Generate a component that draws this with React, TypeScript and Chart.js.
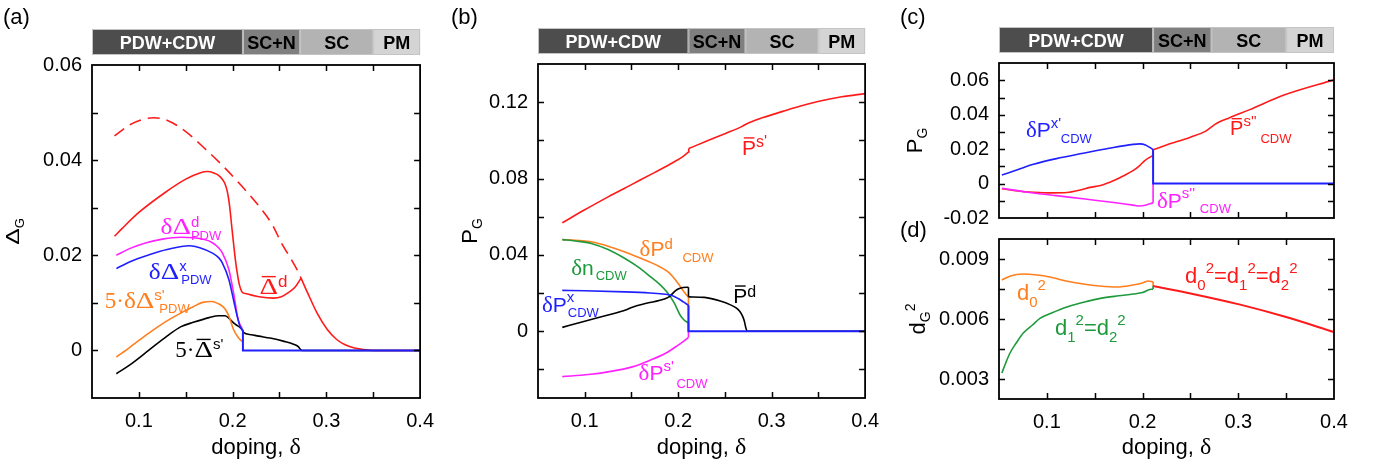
import React, { useEffect, useRef } from 'react';
import { Chart, registerables } from 'chart.js';
Chart.register(...registerables);

// ---------------- DATA ----------------
const xTickLabels = [0.1, 0.2, 0.3, 0.4];
const xMinorTicks = [0.1, 0.15, 0.2, 0.25, 0.3, 0.35];
const phaseNames = ['PDW+CDW', 'SC+N', 'SC', 'PM'];
const phaseBounds = [0.05, 0.211, 0.272, 0.35, 0.4];

// panel (a)
const aYTicks = [0, 0.02, 0.04, 0.06];
const aYMinor = [0, 0.01, 0.02, 0.03, 0.04, 0.05];
const aRedLeft = [[0.074,0.0240],[0.082,0.0256],[0.10,0.0290],[0.128,0.0332],[0.15,0.0360],[0.165,0.0373],[0.173,0.0376],[0.18,0.0373],[0.185,0.0368],[0.189,0.0360],[0.1915,0.0352],[0.194,0.0337],[0.1958,0.0318],[0.197,0.0300],[0.199,0.0262],[0.201,0.0225],[0.203,0.0190],[0.205,0.0162],[0.207,0.0140],[0.209,0.0127],[0.21,0.0123],[0.215,0.0119],[0.228,0.0113],[0.244,0.0110],[0.252,0.0113],[0.259,0.0121],[0.267,0.0134],[0.273,0.0152]];
const aRedRight = [[0.273,0.0152],[0.28,0.0121],[0.29,0.0079],[0.301,0.0044],[0.311,0.0023],[0.32,0.0012],[0.33,0.0005],[0.34,0.0002],[0.35,0],[0.4,0]];
const aRedDashed = [[0.074,0.0451],[0.09,0.0474],[0.105,0.0486],[0.116,0.0489],[0.13,0.0484],[0.15,0.0460],[0.17,0.0425],[0.189,0.0389],[0.21,0.0345],[0.231,0.0296],[0.243,0.0262],[0.252,0.0226],[0.262,0.0193],[0.269,0.0169],[0.273,0.0152]];
const aMagenta = [[0.076,0.0200],[0.09,0.0214],[0.107,0.0226],[0.125,0.0234],[0.145,0.0238],[0.158,0.0237],[0.17,0.0233],[0.178,0.0227],[0.185,0.0216],[0.189,0.0205],[0.196,0.0170],[0.201,0.0121],[0.206,0.0064],[0.21,0.0047]];
const aBlue = [[0.076,0.0172],[0.09,0.0186],[0.111,0.0201],[0.13,0.0212],[0.154,0.0220],[0.165,0.0216],[0.178,0.0205],[0.185,0.0195],[0.189,0.0184],[0.196,0.0149],[0.201,0.0106],[0.205,0.0071],[0.208,0.0050],[0.211,0.0043]];
const aBlueZero = [[0.211,0.0043],[0.211,0],[0.4,0]];
const aOrange = [[0.076,-0.0014],[0.09,0.0006],[0.111,0.0037],[0.13,0.0062],[0.145,0.0079],[0.158,0.0092],[0.168,0.0101],[0.178,0.0103],[0.185,0.0098],[0.189,0.0093],[0.193,0.0084],[0.196,0.0072],[0.201,0.0044],[0.206,0.0027],[0.21,0.0019]];
const aBlack = [[0.076,-0.0049],[0.09,-0.0031],[0.111,0.0001],[0.13,0.0030],[0.145,0.0050],[0.158,0.0059],[0.175,0.0069],[0.185,0.0073],[0.192,0.0073],[0.197,0.0066],[0.201,0.0058],[0.205,0.0052],[0.208,0.0048],[0.21,0.0044],[0.2115,0.0038],[0.22,0.0033],[0.228,0.0030],[0.24,0.0026],[0.255,0.0019],[0.265,0.0013],[0.27,0.0008],[0.2725,0.0002],[0.274,0],[0.4,0]];

// panel (b)
const bYTicks = [0, 0.04, 0.08, 0.12];
const bYMinor = [-0.02, 0, 0.02, 0.04, 0.06, 0.08, 0.1, 0.12];
const bRedLeft = [[0.076,0.0568],[0.1,0.0636],[0.125,0.0704],[0.15,0.0768],[0.175,0.0832],[0.195,0.0885],[0.205,0.0915],[0.211,0.0938]];
const bRedStep = [[0.211,0.0938],[0.2113,0.0957]];
const bRedRight = [[0.2113,0.0957],[0.23,0.0995],[0.25,0.1035],[0.268,0.1072],[0.273,0.1086],[0.29,0.1118],[0.316,0.1158],[0.335,0.1185],[0.352,0.1206],[0.375,0.1228],[0.4,0.1245]];
const bOrange = [[0.076,0.0480],[0.09,0.0476],[0.108,0.0467],[0.125,0.0445],[0.143,0.0415],[0.16,0.0382],[0.177,0.0346],[0.191,0.0303],[0.2,0.0250],[0.205,0.0215],[0.211,0.0178]];
const bOrangeDrop = [[0.211,0.0178],[0.211,0]];
const bGreen = [[0.076,0.0480],[0.09,0.0473],[0.107,0.0460],[0.125,0.0428],[0.143,0.0381],[0.157,0.0337],[0.1705,0.0285],[0.18,0.0247],[0.188,0.0205],[0.196,0.0146],[0.202,0.0085],[0.206,0.0060],[0.211,0.0043]];
const bGreenDrop = [[0.211,0.0043],[0.211,0]];
const bBlue = [[0.076,0.0214],[0.1,0.0212],[0.143,0.0206],[0.17,0.0200],[0.186,0.0194],[0.194,0.0186],[0.2,0.0171],[0.206,0.0152],[0.211,0.0136]];
const bBlueZero = [[0.211,0.0136],[0.211,0],[0.4,0]];
const bBlackLeft = [[0.076,0.0020],[0.1,0.0052],[0.125,0.0085],[0.143,0.0110],[0.151,0.0126],[0.165,0.0145],[0.186,0.0170],[0.191,0.0183],[0.1966,0.0210],[0.2005,0.0222],[0.2053,0.0229],[0.211,0.0230]];
const bBlackStep = [[0.211,0.0230],[0.211,0.0180]];
const bBlackRight = [[0.211,0.0180],[0.228,0.0177],[0.245,0.0158],[0.256,0.0138],[0.262,0.0122],[0.266,0.0103],[0.269,0.0078],[0.271,0.0049],[0.2725,0.0015],[0.274,0],[0.4,0]];
const bMagenta = [[0.076,-0.0238],[0.104,-0.0227],[0.125,-0.0213],[0.151,-0.0187],[0.17,-0.0152],[0.186,-0.0117],[0.2,-0.0073],[0.205,-0.0056],[0.211,-0.0032]];
const bMagentaRise = [[0.211,-0.0032],[0.211,0]];

// panel (c)
const cYTicks = [-0.02, 0, 0.02, 0.04, 0.06];
const cYMinor = [-0.01, 0, 0.01, 0.02, 0.03, 0.04, 0.05, 0.06];
const cBlue = [[0.053,0.0050],[0.07,0.0082],[0.086,0.0112],[0.11,0.0145],[0.138,0.0176],[0.165,0.0205],[0.19,0.0228],[0.197,0.0231],[0.203,0.0225],[0.211,0.0197]];
const cBlueZero = [[0.211,0.0197],[0.211,0],[0.4,0]];
const cRedLeft = [[0.053,-0.0030],[0.07,-0.0043],[0.086,-0.0050],[0.105,-0.0054],[0.121,-0.0052],[0.135,-0.0037],[0.145,-0.0022],[0.156,-0.0011],[0.17,0.0018],[0.18,0.0045],[0.19,0.0075],[0.197,0.0105],[0.202,0.0132],[0.206,0.0148],[0.211,0.0163]];
const cRedStep = [[0.211,0.0163],[0.211,0.0197]];
const cRedRight = [[0.211,0.0197],[0.225,0.0224],[0.25,0.0270],[0.265,0.0302],[0.276,0.0346],[0.291,0.0383],[0.312,0.0430],[0.347,0.0513],[0.4,0.0603]];
const cMagenta = [[0.053,-0.0027],[0.08,-0.0050],[0.11,-0.0070],[0.14,-0.0090],[0.17,-0.0110],[0.19,-0.0125],[0.197,-0.0130],[0.204,-0.0124],[0.211,-0.0112]];
const cMagentaRise = [[0.211,-0.0112],[0.211,0]];

// panel (d)
const dYTicks = [0.003, 0.006, 0.009];
const dYMinor = [0.003, 0.0045, 0.006, 0.0075, 0.009];
const dOrange = [[0.053,0.00795],[0.062,0.00815],[0.075,0.00825],[0.09,0.0082],[0.103,0.0081],[0.12,0.0079],[0.138,0.00775],[0.155,0.00765],[0.174,0.0076],[0.19,0.0077],[0.2,0.0078],[0.206,0.0079],[0.211,0.00785]];
const dOrangeStep = [[0.211,0.00785],[0.211,0.00765]];
const dGreen = [[0.053,0.0033],[0.057,0.0038],[0.0615,0.0043],[0.068,0.0048],[0.0754,0.0053],[0.085,0.0057],[0.0928,0.00603],[0.105,0.0063],[0.121,0.0066],[0.142,0.00688],[0.156,0.00703],[0.175,0.00716],[0.19,0.00725],[0.2,0.00732],[0.206,0.00745],[0.211,0.0075]];
const dGreenStep = [[0.211,0.0075],[0.211,0.00765]];
const dRed = [[0.211,0.00765],[0.25,0.00728],[0.302,0.00672],[0.35,0.0061],[0.4,0.00535]];

// ---------------- STYLE ----------------
const SANS = '"Liberation Sans", Arial, Helvetica, sans-serif';
const SERIF = '"Liberation Serif", "Times New Roman", serif';
const COL = { red: '#ff1a1a', blue: '#1f1fff', mag: '#ff22ff', orange: '#ff7f1e', green: '#1e9a3c', black: '#000000' };
const phaseFill = ['#4d4d4d', '#7f7f7f', '#b3b3b3', '#d4d4d4'];
const phaseText = ['#ffffff', '#000000', '#000000', '#000000'];

const fmt = (v: number, d: number) => (Math.abs(v) < 1e-12 ? '0' : v.toFixed(d));

function seg(data: number[][], color: string, opts: any = {}) {
  const curve = opts.curve !== false;
  return {
    data: data.map(([x, y]) => ({ x, y })),
    borderColor: color,
    backgroundColor: color,
    borderWidth: opts.width ?? 1.6,
    borderDash: opts.dash ?? [],
    pointRadius: 0,
    fill: false,
    tension: curve ? 0.4 : 0,
    cubicInterpolationMode: curve ? 'monotone' : 'default',
  };
}
const line = (d: number[][], c: string, o: any = {}) => seg(d, c, { ...o, curve: false });

// rich text runs
const gk = (t: string, sx = 1, s = 23) => ({ t, f: 'serif', s, sx });
const sn = (t: string, s = 21) => ({ t, f: 'sans', s });
const sup = (t: string, s = 15, dy = -8) => ({ t, f: 'sans', s, dy });
const sub = (t: string, dx = 0, s = 13, dy = 6) => ({ t, f: 'sans', s, dy, back: true, dx });

function drawRuns(ctx: CanvasRenderingContext2D, runs: any[], x: number, y: number, color: string, dry = false) {
  let cur = x;
  let prevStart = x;
  for (const r of runs) {
    ctx.font = `${r.b ? 'bold ' : ''}${r.s}px ${r.f === 'serif' ? SERIF : SANS}`;
    const sx = r.sx ?? 1;
    const w = ctx.measureText(r.t).width * sx;
    const start = (r.back ? prevStart : cur) + (r.dx ?? 0);
    const by = y + (r.dy ?? 0);
    if (!dry) {
      ctx.fillStyle = color;
      ctx.save();
      ctx.translate(start, by);
      ctx.scale(sx, 1);
      ctx.fillText(r.t, 0, 0);
      ctx.restore();
      if (r.bar) {
        const top = by - r.s * (r.f === 'serif' ? 0.66 : 0.72) - 2;
        ctx.strokeStyle = color;
        ctx.lineWidth = 1.4;
        ctx.beginPath();
        ctx.moveTo(start + w * 0.12, top);
        ctx.lineTo(start + w * 0.88, top);
        ctx.stroke();
      }
    }
    prevStart = start;
    cur = Math.max(cur, start + w);
  }
  return cur - x;
}

function decor(p: any) {
  return {
    id: 'decor',
    afterDraw(chart: any) {
      const { ctx, chartArea: ca } = chart;
      const xs = chart.scales.x;
      const ys = chart.scales.y;
      ctx.save();
      ctx.textAlign = 'left';
      ctx.textBaseline = 'alphabetic';
      // frame
      ctx.strokeStyle = '#000';
      ctx.lineWidth = 1.8;
      ctx.strokeRect(ca.left, ca.top, ca.right - ca.left, ca.bottom - ca.top);
      // inward ticks
      const tl = 6;
      ctx.lineWidth = 1.5;
      ctx.beginPath();
      for (const v of xMinorTicks) {
        const px = Math.round(xs.getPixelForValue(v)) + 0.5;
        ctx.moveTo(px, ca.bottom); ctx.lineTo(px, ca.bottom - tl);
        ctx.moveTo(px, ca.top); ctx.lineTo(px, ca.top + tl);
      }
      for (const v of p.yMinor) {
        const py = Math.round(ys.getPixelForValue(v)) + 0.5;
        ctx.moveTo(ca.left, py); ctx.lineTo(ca.left + tl, py);
        ctx.moveTo(ca.right, py); ctx.lineTo(ca.right - tl, py);
      }
      ctx.stroke();
      // phase bar
      if (p.phase) {
        const top = ca.top - 36;
        const h = 26;
        for (let i = 0; i < phaseNames.length; i++) {
          const x0 = xs.getPixelForValue(phaseBounds[i]);
          const x1 = xs.getPixelForValue(phaseBounds[i + 1]);
          ctx.fillStyle = phaseFill[i];
          ctx.fillRect(x0, top, x1 - x0, h);
          ctx.strokeStyle = '#c4c4c4';
          ctx.lineWidth = 1;
          ctx.strokeRect(x0 + 0.5, top + 0.5, x1 - x0 - 1, h - 1);
          ctx.font = `bold 18px ${SANS}`;
          ctx.fillStyle = phaseText[i];
          ctx.textAlign = 'center';
          ctx.fillText(phaseNames[i], (x0 + x1) / 2, top + 20);
          ctx.textAlign = 'left';
        }
      }
      // curve labels
      for (const lb of p.labels) {
        drawRuns(ctx, lb.runs, xs.getPixelForValue(lb.x), ys.getPixelForValue(lb.y), lb.c);
      }
      // y title (rotated)
      if (p.yTitle) {
        const cy = (ca.top + ca.bottom) / 2;
        const w = drawRuns(ctx, p.yTitle.runs, 0, 0, '#000', true);
        ctx.save();
        ctx.translate(p.yTitle.x, cy);
        ctx.rotate(-Math.PI / 2);
        drawRuns(ctx, p.yTitle.runs, -w / 2, 0, '#000');
        ctx.restore();
      }
      // x title
      if (p.xTitleY) {
        const runs = [sn('doping, ', 22), gk('δ', 1, 24)];
        const w = drawRuns(ctx, runs, 0, 0, '#000', true);
        drawRuns(ctx, runs, (ca.left + ca.right) / 2 - w / 2, p.xTitleY, '#000');
      }
      // panel letter
      if (p.letter) {
        ctx.font = `22px ${SANS}`;
        ctx.fillStyle = '#000';
        ctx.fillText(p.letter.t, p.letter.x, p.letter.y);
      }
      ctx.restore();
    },
  };
}

function buildConfig(p: any) {
  return {
    type: 'line',
    data: { datasets: p.series },
    options: {
      animation: false,
      responsive: false,
      maintainAspectRatio: false,
      devicePixelRatio: 1,
      events: [],
      layout: { padding: { left: 0, right: p.pr, top: p.pt, bottom: p.pb } },
      plugins: { legend: { display: false }, tooltip: { enabled: false }, title: { display: false } },
      scales: {
        x: {
          type: 'linear', min: 0.05, max: 0.4,
          grid: { display: false, drawTicks: false }, border: { display: false },
          ticks: { display: p.showX, color: '#000', font: { family: SANS, size: 20 }, padding: 11, maxRotation: 0, autoSkip: false, callback: (v: number) => fmt(v, 1) },
          afterBuildTicks: (s: any) => { s.ticks = xTickLabels.map((v) => ({ value: v })); },
          afterFit: (s: any) => { s.height = p.xh; },
        },
        y: {
          type: 'linear', min: p.ymin, max: p.ymax,
          grid: { display: false, drawTicks: false }, border: { display: false },
          ticks: { color: '#000', font: { family: SANS, size: 20 }, padding: 10, autoSkip: false, callback: (v: number) => fmt(v, p.dec) },
          afterBuildTicks: (s: any) => { s.ticks = p.yTicks.map((v: number) => ({ value: v })); },
          afterFit: (s: any) => { s.width = p.yw; },
        },
      },
    },
    plugins: [decor(p)],
  };
}

const barP = (s = 21) => ({ t: 'P', f: 'sans', s, bar: true });
const barD = () => ({ ...gk('Δ', 1.25, 23), bar: true });
const dd = (t: string) => ({ t, f: 'sans', s: 22 });
const dsub = (t: string) => ({ t, f: 'sans', s: 15, dy: 7 });
const dsup = (t: string) => ({ t, f: 'sans', s: 15, dy: -10 });

const panels: any[] = [
  {
    left: 0, top: 0, w: 445, h: 461, yw: 92, pr: 18, pt: 65, pb: 23, xh: 40, showX: true,
    ymin: -0.01, ymax: 0.06, yTicks: aYTicks, yMinor: aYMinor, dec: 2, phase: true,
    letter: { t: '(a)', x: 3, y: 24 }, xTitleY: 454,
    yTitle: { x: 19, runs: [{ t: 'Δ', f: 'sans', s: 19, sx: 1.3 }, { t: 'G', f: 'sans', s: 13, dy: 5 }] },
    labels: [
      { x: 0.1231, y: 0.02457, c: COL.mag, runs: [gk('δ', 1.1, 23), gk('Δ', 1.25, 23), sup('d', 15, -7), sub('PDW', 0, 13, 6)] },
      { x: 0.1106, y: 0.0151, c: COL.blue, runs: [gk('δ', 1.1, 23), gk('Δ', 1.25, 23), sup('x', 15, -8), sub('PDW', 2, 13, 5)] },
      { x: 0.0636, y: 0.0090, c: COL.orange, runs: [gk('5', 1, 23), gk('·', 1, 23), gk('δ', 1.1, 23), gk('Δ', 1.25, 23), sup("s'", 15, -8), sub('PDW', 5, 13, 5)] },
      { x: 0.1388, y: -0.0013, c: COL.black, runs: [gk('5', 1, 23), gk('·', 1, 23), barD(), sup("s'", 15, -8)] },
      { x: 0.2287, y: 0.0119, c: COL.red, runs: [barD(), { t: 'd', f: 'sans', s: 17, dy: -7 }] },
    ],
    series: [
      line(aBlueZero, COL.blue, { width: 2 }),
      seg(aBlue, COL.blue),
      seg(aMagenta, COL.mag),
      seg(aOrange, COL.orange),
      seg(aBlack, COL.black),
      seg(aRedLeft, COL.red),
      seg(aRedRight, COL.red),
      seg(aRedDashed, COL.red, { dash: [12, 7] }),
    ],
  },
  {
    left: 440, top: 0, w: 450, h: 461, yw: 98, pr: 17, pt: 64, pb: 23, xh: 40, showX: true,
    ymin: -0.035, ymax: 0.14, yTicks: bYTicks, yMinor: bYMinor, dec: 2, phase: true,
    letter: { t: '(b)', x: 11, y: 24 }, xTitleY: 454,
    yTitle: { x: 37, runs: [{ t: 'P', f: 'sans', s: 22 }, { t: 'G', f: 'sans', s: 14, dy: 5 }] },
    labels: [
      { x: 0.2684, y: 0.0923, c: COL.red, runs: [barP(21), sup("s'", 16, -8)] },
      { x: 0.1587, y: 0.0393, c: COL.orange, runs: [gk('δ'), sn('P'), sup('d', 15, -7), sub('CDW', 18, 13, 6)] },
      { x: 0.0855, y: 0.0294, c: COL.green, runs: [gk('δ'), sn('n'), { t: 'CDW', f: 'sans', s: 13, dy: 5, dx: 2 }] },
      { x: 0.0542, y: 0.0100, c: COL.blue, runs: [gk('δ'), sn('P'), sup('x', 15, -10), sub('CDW', 1, 13, 5)] },
      { x: 0.259, y: 0.0147, c: COL.black, runs: [barP(21), sup('d', 16, -6)] },
      { x: 0.1576, y: -0.0257, c: COL.mag, runs: [gk('δ'), sn('P'), sup("s'", 15, -9), sub('CDW', 13, 13, 8)] },
    ],
    series: [
      line(bBlueZero, COL.blue, { width: 2 }),
      seg(bBlue, COL.blue),
      seg(bBlackLeft, COL.black),
      line(bBlackStep, COL.black),
      seg(bBlackRight, COL.black),
      seg(bGreen, COL.green),
      line(bGreenDrop, COL.green),
      seg(bOrange, COL.orange),
      line(bOrangeDrop, COL.orange),
      seg(bMagenta, COL.mag),
      line(bMagentaRise, COL.mag),
      seg(bRedLeft, COL.red),
      line(bRedStep, COL.red),
      seg(bRedRight, COL.red),
    ],
  },
  {
    left: 890, top: 0, w: 486, h: 240, yw: 109, pr: 42, pt: 63, pb: 17, xh: 0, showX: false,
    ymin: -0.02, ymax: 0.0701, yTicks: cYTicks, yMinor: cYMinor, dec: 2, phase: true,
    letter: { t: '(c)', x: 10, y: 24 },
    yTitle: { x: 32, runs: [{ t: 'P', f: 'sans', s: 22 }, { t: 'G', f: 'sans', s: 14, dy: 5 }] },
    labels: [
      { x: 0.0782, y: 0.0270, c: COL.blue, runs: [gk('δ'), sn('P'), sup("x'", 15, -9), sub('CDW', 10, 13, 6)] },
      { x: 0.2914, y: 0.0282, c: COL.red, runs: [barP(20), sup("s''", 15, -9), sub('CDW', 17, 13, 8)] },
      { x: 0.2151, y: -0.0141, c: COL.mag, runs: [gk('δ'), sn('P'), sup("s''", 15, -10), sub('CDW', 18, 13, 5)] },
    ],
    series: [
      line(cBlueZero, COL.blue, { width: 2 }),
      seg(cBlue, COL.blue),
      seg(cMagenta, COL.mag),
      line(cMagentaRise, COL.mag),
      seg(cRedLeft, COL.red),
      line(cRedStep, COL.red),
      seg(cRedRight, COL.red),
    ],
  },
  {
    left: 890, top: 215, w: 486, h: 246, yw: 109, pr: 42, pt: 24, pb: 22, xh: 40, showX: true,
    ymin: 0.002, ymax: 0.010, yTicks: dYTicks, yMinor: dYMinor, dec: 3, phase: false,
    letter: { t: '(d)', x: 10, y: 22 }, xTitleY: 239,
    yTitle: { x: 35, runs: [{ t: 'd', f: 'sans', s: 22 }, { t: 'G', f: 'sans', s: 14, dy: 5 }, { t: '2', f: 'sans', s: 14, dy: -10 }] },
    labels: [
      { x: 0.0688, y: 0.00695, c: COL.orange, runs: [dd('d'), dsub('0'), dsup('2')] },
      { x: 0.1085, y: 0.0052, c: COL.green, runs: [dd('d'), dsub('1'), dsup('2'), dd('='), dd('d'), dsub('2'), dsup('2')] },
      { x: 0.2444, y: 0.0078, c: COL.red, runs: [dd('d'), dsub('0'), dsup('2'), dd('='), dd('d'), dsub('1'), dsup('2'), dd('='), dd('d'), dsub('2'), dsup('2')] },
    ],
    series: [
      seg(dRed, COL.red, { width: 2 }),
      seg(dOrange, COL.orange),
      line(dOrangeStep, COL.orange),
      seg(dGreen, COL.green),
      line(dGreenStep, COL.green),
    ],
  },
];

function Panel({ cfg }: { cfg: any }) {
  const ref = useRef<HTMLCanvasElement>(null);
  useEffect(() => {
    const chart = new Chart(ref.current as HTMLCanvasElement, buildConfig(cfg) as any);
    return () => chart.destroy();
  }, [cfg]);
  return (
    <canvas
      ref={ref}
      width={cfg.w}
      height={cfg.h}
      style={{ position: 'absolute', left: cfg.left, top: cfg.top, width: cfg.w, height: cfg.h }}
    />
  );
}

export default function App() {
  return (
    <div style={{ position: 'fixed', left: 0, top: 0, width: 1376, height: 461, background: '#ffffff', overflow: 'hidden' }}>
      {panels.map((p, i) => (
        <Panel key={i} cfg={p} />
      ))}
    </div>
  );
}
